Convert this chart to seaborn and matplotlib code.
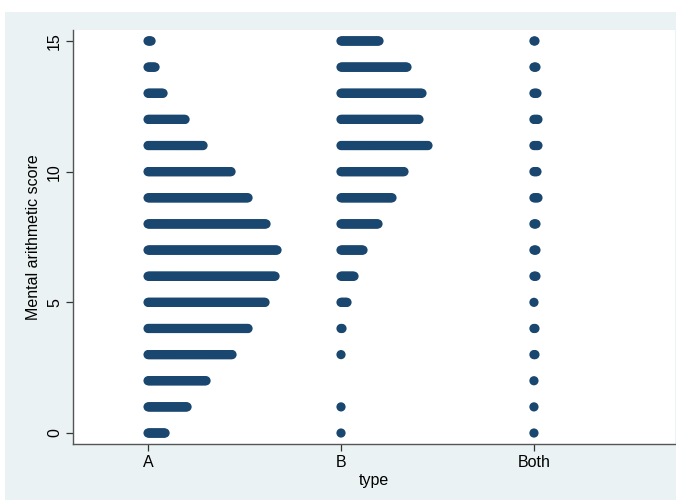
import numpy as np
import pandas as pd
import matplotlib
matplotlib.use("Agg")
import matplotlib.pyplot as plt
import seaborn as sns

# ---- data (counts per score value) ----
types = ["A", "B", "Both"]
scores = list(range(16))
counts_A = [18, 40, 59, 85, 101, 118, 128, 130, 119, 101, 84, 56, 38, 16, 8, 4]
counts_B = [1, 1, 0, 1, 2, 7, 14, 23, 38, 52, 64, 88, 79, 82, 67, 39]
counts_Both = [1, 1, 1, 2, 2, 1, 3, 3, 3, 5, 4, 5, 5, 4, 3, 2]
y_ticks = [0, 5, 10, 15]

# ---- build long-form data (one row per observation) ----
step = 1.0 / 193.0  # horizontal offset between stacked dots (dotplot layout)
rows = []
for ti, (t, cnts) in enumerate(zip(types, [counts_A, counts_B, counts_Both])):
    for s, c in zip(scores, cnts):
        for j in range(c):
            rows.append({"type": t, "pos": ti + j * step, "score": s})
df = pd.DataFrame(rows)

sns.set_theme(style="white")
plt.rcParams["font.family"] = ["Liberation Sans", "DejaVu Sans"]

fig = plt.figure(figsize=(6.76, 5.01), dpi=100, facecolor="white")
# outer graph region (Stata-like light background)
bg = plt.Rectangle((5 / 676, 0.002), 1.0, 1 - 12 / 501 - 0.002,
                   transform=fig.transFigure, facecolor="#EAF2F3",
                   edgecolor="none", zorder=-10)
fig.patches.append(bg)
ax = fig.add_axes([73 / 676, 1 - 444 / 501, (675 - 73) / 676, (444 - 30) / 501])
ax.set_zorder(5)
ax.set_facecolor("white")

sns.scatterplot(data=df, x="pos", y="score", ax=ax, color="#1a476f",
                s=44, linewidth=0, edgecolor="none", legend=False)

ax.set_xlim(-0.389, 2.731)
ax.set_ylim(-0.42, 15.42)
ax.set_xticks(range(len(types)))
ax.set_xticklabels(types)
ax.set_yticks(y_ticks)
ax.set_yticklabels([str(v) for v in y_ticks], rotation=90, va="center")

for side in ["top", "right"]:
    ax.spines[side].set_visible(False)
for side in ["left", "bottom"]:
    ax.spines[side].set_color("#555555")
    ax.spines[side].set_linewidth(1.0)

ax.tick_params(axis="both", which="major", length=5, width=0.9, color="#333333",
               labelsize=11.5, labelcolor="black", direction="out", pad=3, bottom=True, left=True)
ax.set_xlabel("type", fontsize=11.5, color="black", labelpad=2)
ax.set_ylabel("Mental arithmetic score", fontsize=11.5, color="black", labelpad=4)

fig.savefig("out.png", dpi=100, facecolor=fig.get_facecolor())
